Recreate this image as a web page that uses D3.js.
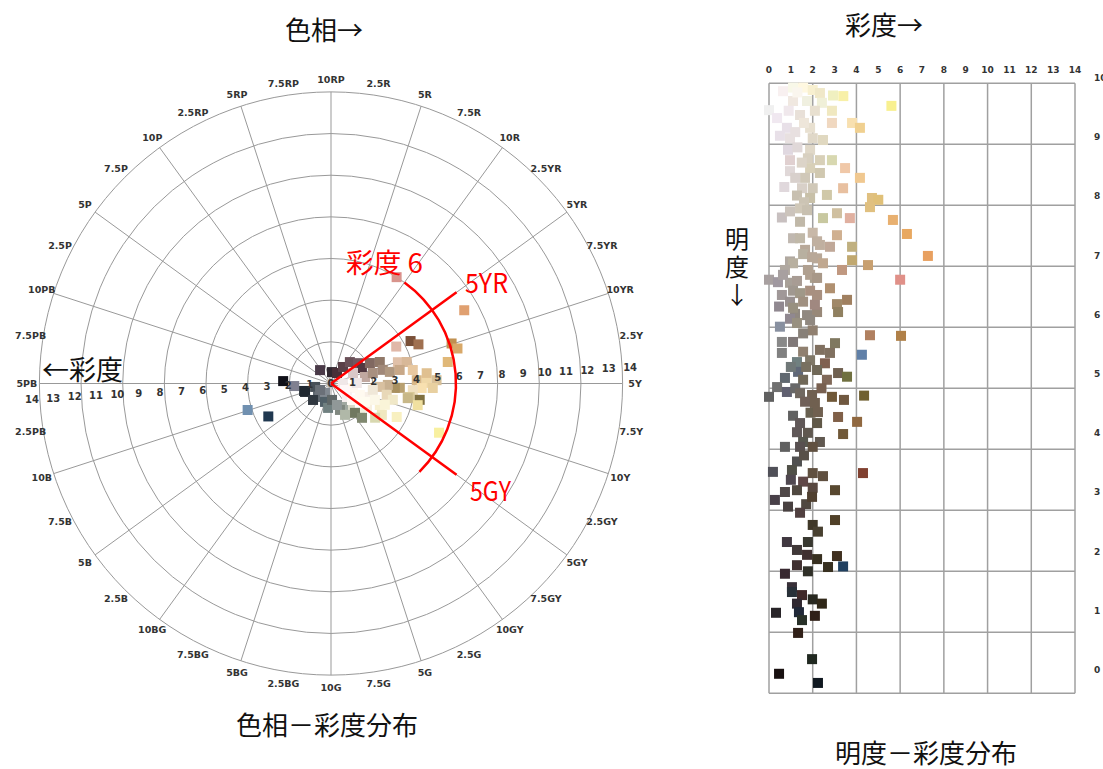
<!DOCTYPE html>
<html>
<head>
<meta charset="utf-8">
<script src="https://cdn.jsdelivr.net/npm/d3@7"></script>
<style>
  body { margin: 0; background: #fff; }
  svg { display: block; }
</style>
</head>
<body>
<svg id="chart" width="1103" height="769"></svg>
<script>
// Munsell hue names around the wheel, every 2.5 hue steps, clockwise from 10RP
const hueLabels = ["10RP","2.5R","5R","7.5R","10R","2.5YR","5YR","7.5YR","10YR","2.5Y",
  "5Y","7.5Y","10Y","2.5GY","5GY","7.5GY","10GY","2.5G","5G","7.5G",
  "10G","2.5BG","5BG","7.5BG","10BG","2.5B","5B","7.5B","10B","2.5PB",
  "5PB","7.5PB","10PB","2.5P","5P","7.5P","10P","2.5RP","5RP","7.5RP"];
const ringChroma = [2, 4, 6, 8, 10, 12, 14];
const chromaTicks = [0,1,2,3,4,5,6,7,8,9,10,11,12,13,14];
const valueTicks = [0,1,2,3,4,5,6,7,8,9,10];
const gridChroma = [0, 2, 4, 6, 8, 10, 12, 14];

// Hue–chroma samples: [hue number (0–100, R=0–10 … RP=90–100), chroma, sample colour]
const hueChromaSamples = [
  [8.8, 6.0, "#d8948c"], [17.0, 7.3, "#e0a070"], [17.2, 4.33, "#7a5038"], [18.3, 4.6, "#a07050"],
  [16.8, 3.6, "#e0b8a8"], [19.9, 6.1, "#c09050"], [20.7, 6.3, "#d8a868"], [22.1, 5.7, "#e0b878"],
  [31.8, 5.7, "#f8f0a0"], [70.1, 4.2, "#7090b0"], [67.3, 3.4, "#203850"], [75.8, 2.3, "#101018"],
  [73.9, 1.77, "#808090"], [70.7, 1.34, "#202830"],
  [89.1, 0.83, "#4a3a48"], [1.4, 0.55, "#302830"], [8.3, 0.58, "#483038"], [10, 0.98, "#5a4048"],
  [11.5, 1.37, "#6a5058"], [14.7, 1.62, "#705860"], [17.6, 1.66, "#503840"], [17.3, 2.11, "#806860"],
  [18.4, 2.56, "#907868"], [17.9, 1.17, "#d8c8c8"], [22, 1.66, "#c0a8a0"], [21.1, 2.07, "#a89080"],
  [20.9, 2.57, "#a08878"], [21.9, 2.88, "#b09880"], [20.1, 3.37, "#e0c0a8"], [20.6, 3.78, "#d8b898"],
  [21.9, 3.36, "#c8a888"], [22.4, 3.98, "#e8c8a0"], [24.4, 4.12, "#d8b888"], [23.3, 4.62, "#e0c090"],
  [24.9, 4.59, "#f0d8a8"], [24.5, 5.07, "#d8c098"], [25.7, 4.89, "#e8d0a0"], [25.8, 4.36, "#f8e0b0"],
  [26.3, 3.94, "#f0e0c0"], [27.7, 3.83, "#d8c898"], [27.9, 4.33, "#807040"], [28.9, 4.29, "#f0e0a0"],
  [28, 3.75, "#c8b888"], [26, 3.31, "#b8a070"], [26.1, 3.07, "#a89060"], [25.4, 2.73, "#c8b090"],
  [26.1, 2.35, "#d8c0a0"], [28.2, 2.73, "#e8d8b8"], [29.1, 3.07, "#f0e8c8"], [32.5, 3.54, "#f8f0c0"],
  [31.6, 2.56, "#f8f0d0"], [34.2, 2.06, "#f8f0e0"], [37.6, 1.98, "#f0f0e0"], [40.1, 1.56, "#d8d8c8"],
  [41.9, 1.18, "#a0a8a0"], [44.8, 1.34, "#808880"], [39.1, 1.82, "#707860"], [33.8, 2.87, "#f0e8c0"],
  [30.7, 1.84, "#f8f0e8"], [28.2, 1.07, "#fff8f0"], [36.2, 1.0, "#f8f0f0"], [27.4, 2.03, "#f0e8d8"],
  [24.7, 1.24, "#f0e8e8"], [25, 0.57, "#f0e8e8"],
  [70, 1.31, "#202830"], [71.6, 0.78, "#485058"], [62.2, 0.9, "#606870"], [59, 0.54, "#808890"],
  [63.2, 1.17, "#303840"], [55, 0.93, "#506068"], [51.9, 1.18, "#708080"], [49, 0.79, "#606868"],
  [45.7, 1.07, "#909898"], [66.5, 0.61, "#6a7078"], [43.3, 1.65, "#b0b8a8"], [38.3, 2.22, "#808870"],
  [35.5, 2.68, "#d8d8b0"],
  [31.9, 0.74, "#fff8f8"], [31, 1.49, "#fffaf0"], [30.7, 2.25, "#fcf8e8"], [31, 2.78, "#faf4d8"],
  [32.9, 1.85, "#fffcf0"], [35.6, 1.28, "#fffaf5"]
];

// Value–chroma samples: [chroma, value, sample colour]
const valueChromaSamples = [
  [0.0, 9.56, "#f0f0f0"], [0.64, 9.87, "#f8f0f0"], [1.1, 9.93, "#f8f8e8"], [1.56, 9.93, "#fff8e0"],
  [2.0, 9.89, "#f8f0d0"], [2.33, 9.84, "#f0e8c8"], [2.93, 9.8, "#f0f0c0"], [3.4, 9.79, "#f8f0a8"],
  [5.6, 9.63, "#f8f090"], [0.37, 9.43, "#f0e8f0"], [1.1, 9.71, "#f0e8e0"], [1.74, 9.71, "#f0f0e0"],
  [2.42, 9.68, "#f0f0d8"], [2.88, 9.55, "#f0e8c0"], [2.1, 9.55, "#e8e0d0"], [1.42, 9.48, "#e8e0d8"],
  [0.82, 9.27, "#e8e0e8"], [0.5, 9.14, "#e8e0e8"], [0.96, 9.1, "#e8e0e0"], [1.88, 9.27, "#e8e0d0"],
  [2.88, 9.35, "#f0d8c0"], [3.8, 9.35, "#f8e0b0"], [4.16, 9.27, "#f0d090"], [2.0, 9.1, "#e0d8c8"],
  [2.47, 9.07, "#e0d8c0"], [0.87, 8.91, "#e0d8e0"], [1.88, 8.91, "#e0d8c8"], [0.96, 8.74, "#e0d0d0"],
  [1.78, 8.77, "#d8d0c0"], [2.33, 8.74, "#d8d0b8"], [2.88, 8.74, "#d8d8b0"], [3.48, 8.61, "#f0c8a8"],
  [0.96, 8.56, "#e0d8d8"], [1.88, 8.61, "#d8d0b8"], [2.33, 8.53, "#d0c8b0"], [4.16, 8.45, "#f0c890"],
  [1.65, 8.45, "#d0c8b8"], [3.39, 8.28, "#e8c0a0"], [2.65, 8.17, "#d0c8a8"], [2.0, 8.28, "#d0c8b8"],
  [1.51, 8.28, "#d8d0c8"], [1.28, 8.16, "#c8c0b0"], [1.88, 8.12, "#c8c0a8"], [4.71, 8.12, "#e0c080"],
  [5.0, 8.09, "#e0c078"], [4.62, 7.97, "#e0c080"],
  [1.3, 9.85, "#faf6ee"], [0.9, 9.55, "#f0e8ec"], [1.6, 9.35, "#eee6da"], [1.2, 9.2, "#e8e0e0"],
  [1.3, 8.95, "#e0d8d8"], [1.5, 8.7, "#dcd4c8"], [1.2, 8.45, "#d8d0cc"], [0.7, 8.3, "#e0d8dc"],
  [1.6, 8.05, "#ccc4b4"],
  [0.59, 7.8, "#c8c0c0"], [1.42, 7.73, "#c0b8a8"], [2.47, 7.79, "#c8c8a0"], [3.11, 7.87, "#d0c0a0"],
  [3.7, 7.79, "#e0b0a0"], [5.67, 7.76, "#e8b070"], [6.31, 7.53, "#e8a860"], [7.27, 7.17, "#e8a060"],
  [1.42, 7.95, "#d0c8b8"], [1.74, 7.92, "#c8c0b0"], [0.96, 7.9, "#ccc4bc"],
  [1.1, 7.46, "#c0b8b0"], [2.0, 7.55, "#c8b8a8"], [3.11, 7.51, "#d0b090"], [3.8, 7.32, "#c0b080"],
  [2.79, 7.32, "#c0a898"], [1.65, 7.27, "#b8a898"], [2.33, 7.35, "#c0b0a0"], [3.8, 7.1, "#c0a870"],
  [1.42, 7.46, "#c0b8a8"], [2.2, 7.41, "#c0b0a0"], [1.56, 7.2, "#b8b0a0"], [2.2, 7.13, "#b8a898"],
  [0.96, 7.08, "#b0a8a0"],
  [4.53, 7.02, "#c8a070"], [2.47, 7.05, "#c0a890"], [1.1, 7.05, "#b8b0a0"], [1.97, 7.15, "#b8a898"],
  [3.34, 6.94, "#c09880"], [0.73, 6.94, "#b0a8a0"], [1.78, 6.94, "#b0a090"], [0.0, 6.78, "#a8a0a0"],
  [0.41, 6.74, "#a098a0"], [6.0, 6.78, "#e09088"], [0.96, 6.73, "#a8a098"], [2.1, 6.81, "#a8a090"],
  [0.64, 6.86, "#a8a0a0"], [1.88, 6.86, "#b0a090"], [2.2, 6.81, "#a89888"], [1.28, 6.76, "#a89c94"],
  [1.1, 6.6, "#a09890"], [1.88, 6.6, "#a89080"],
  [2.79, 6.64, "#b09070"], [0.59, 6.53, "#a09898"], [1.42, 6.56, "#a09888"], [2.2, 6.53, "#a89080"],
  [3.57, 6.45, "#a08060"], [3.11, 6.38, "#a08868"], [3.16, 6.25, "#908060"], [0.46, 6.34, "#908890"],
  [0.96, 6.42, "#989090"], [1.56, 6.42, "#a09080"], [1.19, 6.22, "#908880"], [2.2, 6.25, "#988878"],
  [0.96, 6.14, "#908890"],
  [1.1, 6.32, "#989080"], [2.1, 6.37, "#a08880"], [1.74, 6.2, "#908880"], [0.5, 6.01, "#8890a0"],
  [1.28, 6.07, "#989080"], [1.88, 6.12, "#908880"], [4.62, 5.87, "#b08060"], [6.04, 5.86, "#b08048"],
  [2.0, 5.95, "#908070"], [1.56, 5.9, "#888078"],
  [0.59, 5.76, "#888888"], [1.1, 5.76, "#807878"], [3.02, 5.74, "#807860"], [4.25, 5.55, "#6080a8"],
  [0.59, 5.58, "#808080"], [1.56, 5.6, "#908070"], [2.33, 5.63, "#807060"], [2.79, 5.58, "#807060"],
  [1.28, 5.43, "#708080"], [1.88, 5.46, "#807868"], [2.56, 5.41, "#806050"], [1.33, 5.27, "#606878"],
  [1.0, 5.35, "#707878"], [1.7, 5.35, "#787060"],
  [2.2, 5.3, "#706858"], [3.16, 5.25, "#706050"], [3.57, 5.19, "#707040"], [0.73, 5.17, "#606870"],
  [1.56, 5.14, "#706858"], [2.65, 5.14, "#806858"], [0.37, 5.02, "#707070"], [0.82, 4.94, "#606070"],
  [1.2, 5.0, "#686868"], [2.4, 5.0, "#786050"],
  [0.0, 4.86, "#606060"], [1.42, 4.92, "#706860"], [1.97, 4.89, "#706050"], [2.88, 4.86, "#705838"],
  [3.43, 4.81, "#705840"], [4.35, 4.88, "#706030"], [1.65, 4.78, "#706058"], [2.1, 4.76, "#706050"],
  [1.1, 4.55, "#606060"], [1.9, 4.6, "#686050"],
  [2.24, 4.61, "#706050"], [3.16, 4.53, "#806048"], [4.03, 4.45, "#906840"], [1.42, 4.43, "#605858"],
  [2.2, 4.43, "#605848"], [3.39, 4.25, "#705838"], [1.28, 4.28, "#605858"], [1.78, 4.27, "#605850"],
  [1.56, 4.12, "#585850"], [0.73, 4.04, "#606060"], [2.33, 4.12, "#605850"], [1.42, 4.04, "#585050"],
  [2.0, 4.04, "#605040"], [1.28, 3.8, "#505050"], [0.18, 3.63, "#505058"], [1.05, 3.66, "#505048"],
  [1.6, 3.9, "#585048"], [1.0, 3.5, "#504850"], [1.7, 3.1, "#504840"],
  [4.3, 3.61, "#804030"], [2.0, 3.61, "#605040"], [2.47, 3.56, "#605040"], [1.56, 3.47, "#604848"],
  [2.0, 3.37, "#584840"], [3.02, 3.33, "#584830"], [0.73, 3.3, "#504848"], [1.28, 3.33, "#504840"],
  [1.97, 3.22, "#504030"], [0.27, 3.17, "#484048"], [0.87, 3.06, "#484040"], [1.42, 2.96, "#504040"],
  [3.02, 2.84, "#504028"], [2.0, 2.76, "#403828"], [2.24, 2.65, "#484030"], [0.82, 2.48, "#403840"],
  [1.78, 2.48, "#383830"], [1.28, 2.35, "#403838"], [1.74, 2.27, "#403030"], [2.2, 2.2, "#383020"],
  [3.11, 2.25, "#403020"], [2.7, 2.07, "#383020"], [3.39, 2.08, "#204060"], [1.28, 2.1, "#403030"],
  [1.78, 2.0, "#303028"], [0.73, 1.96, "#382830"], [1.05, 1.74, "#383038"], [1.51, 1.61, "#402828"],
  [1.05, 1.66, "#283038"], [2.0, 1.54, "#282820"], [2.42, 1.47, "#302818"], [1.28, 1.47, "#302830"],
  [0.32, 1.32, "#282428"], [1.37, 1.33, "#202838"], [1.51, 1.2, "#283028"], [2.1, 1.27, "#302018"],
  [1.33, 0.99, "#302018"], [1.97, 0.56, "#202820"], [0.46, 0.32, "#181010"], [2.24, 0.17, "#101820"]
];

// Highlighted range on the hue wheel: hues 5YR–5GY, chroma 6 boundary
const highlightHues = [15, 35];      // 5YR, 5GY
const highlightRayChroma = 7.45;
const highlightArc = { chroma: 6, from: 10, to: 37.5 };

const svg = d3.select("#chart");
const labelFont = "'DejaVu Sans', sans-serif";
const jpFont = "'Noto Sans CJK JP', 'Noto Sans', sans-serif";

// ---------------- Hue–chroma polar chart ----------------
const cx = 331, cy = 383.5;
const r = d3.scaleLinear().domain([0, 14]).range([0, 291.6]);
const rTick = d3.scaleLinear().domain([0, 14]).range([0, 299.5]);
const ang = d3.scaleLinear().domain([0, 100]).range([0, 2 * Math.PI]); // clockwise from top
const polar = (h, c) => [cx + r(c) * Math.sin(ang(h)), cy - r(c) * Math.cos(ang(h))];

const gp = svg.append("g");
const gridColor = "#999";

gp.selectAll("circle.ring").data(ringChroma).join("circle")
  .attr("cx", cx).attr("cy", cy).attr("r", d => r(d))
  .attr("fill", "none").attr("stroke", gridColor).attr("stroke-width", 1);

const hueSteps = hueLabels.map((name, i) => ({ name, h: i * 2.5, i }));
gp.selectAll("line.spoke").data(hueSteps.filter(d => d.i % 2 === 0)).join("line")
  .attr("x1", cx).attr("y1", cy)
  .attr("x2", d => polar(d.h, 14)[0]).attr("y2", d => polar(d.h, 14)[1])
  .attr("stroke", gridColor).attr("stroke-width", 1);

gp.selectAll("text.hue").data(hueSteps).join("text")
  .attr("x", d => cx + (r(14) + 12.5) * Math.sin(ang(d.h)))
  .attr("y", d => cy - (r(14) + 12.5) * Math.cos(ang(d.h)))
  .attr("text-anchor", "middle").attr("dominant-baseline", "central")
  .attr("font-family", labelFont).attr("font-weight", "bold").attr("font-size", 9.5)
  .attr("fill", "#333").text(d => d.name);

// samples
const sq = 10;
gp.selectAll("rect.hc").data(hueChromaSamples).join("rect")
  .attr("x", d => polar(d[0], d[1])[0] - sq / 2)
  .attr("y", d => polar(d[0], d[1])[1] - sq / 2)
  .attr("width", sq).attr("height", sq)
  .attr("fill", d => d[2]);

// chroma tick labels along the horizontal axis (slightly tilted)
const tilt = -3 * Math.PI / 180;
const tickRows = chromaTicks.map(v => ({ v, side: 1 }))
  .concat(chromaTicks.filter(v => v > 0).map(v => ({ v, side: -1 })));
gp.selectAll("text.ct").data(tickRows).join("text")
  .attr("x", d => cx + d.side * rTick(d.v) * Math.cos(tilt))
  .attr("y", d => cy + d.side * rTick(d.v) * Math.sin(tilt))
  .attr("text-anchor", "middle").attr("dominant-baseline", "central")
  .attr("font-family", labelFont).attr("font-weight", "bold").attr("font-size", 10)
  .attr("fill", "#333").text(d => d.v);

// red highlight
const red = "#ff0000";
gp.selectAll("line.hl").data(highlightHues).join("line")
  .attr("x1", cx).attr("y1", cy)
  .attr("x2", h => polar(h, highlightRayChroma)[0])
  .attr("y2", h => polar(h, highlightRayChroma)[1])
  .attr("stroke", red).attr("stroke-width", 2.5);
const arcPath = d3.path();
arcPath.arc(cx, cy, r(highlightArc.chroma),
  ang(highlightArc.from) - Math.PI / 2, ang(highlightArc.to) - Math.PI / 2);
gp.append("path").attr("d", arcPath.toString())
  .attr("fill", "none").attr("stroke", red).attr("stroke-width", 2.5);

const redText = (t, x, y, len) => gp.append("text")
  .attr("x", x).attr("y", y).attr("font-family", jpFont).attr("font-size", 27)
  .attr("fill", red).attr("textLength", len).attr("lengthAdjust", "spacingAndGlyphs").text(t);
redText("彩度 6", 346, 273, 77);
redText("5YR", 465, 293, 43);
redText("5GY", 470, 501, 41);

// titles
const title = (t, x, y, size, anchor) => svg.append("text")
  .attr("x", x).attr("y", y).attr("font-family", jpFont).attr("font-size", size)
  .attr("text-anchor", anchor || "start").attr("fill", "#111").text(t);
title("色相→", 285, 40, 26);
title("←彩度", 42, 380, 27);
title("色相－彩度分布", 236, 735, 26);

// ---------------- Value–chroma chart ----------------
const x = d3.scaleLinear().domain([0, 14]).range([769, 1075]);
const y = d3.scaleLinear().domain([0, 10]).range([693.3, 83.3]);
const yTick = d3.scaleLinear().domain([0, 10]).range([670, 78]);
const gm = svg.append("g");
const mGrid = "#a0a0a0";

gm.selectAll("line.v").data(gridChroma).join("line")
  .attr("x1", d => x(d)).attr("x2", d => x(d))
  .attr("y1", y(10)).attr("y2", y(0))
  .attr("stroke", mGrid).attr("stroke-width", 1.5);
gm.selectAll("line.h").data(valueTicks).join("line")
  .attr("x1", x(0)).attr("x2", x(14))
  .attr("y1", d => y(d)).attr("y2", d => y(d))
  .attr("stroke", mGrid).attr("stroke-width", 1.5);

gm.selectAll("text.xt").data(chromaTicks).join("text")
  .attr("x", d => x(d)).attr("y", 70)
  .attr("text-anchor", "middle").attr("dominant-baseline", "central")
  .attr("font-family", labelFont).attr("font-weight", "bold").attr("font-size", 9)
  .attr("fill", "#333").text(d => d);
gm.selectAll("text.yt").data(valueTicks).join("text")
  .attr("x", 1094).attr("y", d => yTick(d))
  .attr("dominant-baseline", "central")
  .attr("font-family", labelFont).attr("font-weight", "bold").attr("font-size", 9)
  .attr("fill", "#333").text(d => d);

const sq2 = 10;
gm.selectAll("rect.vc").data(valueChromaSamples).join("rect")
  .attr("x", d => x(d[0]) - sq2 / 2)
  .attr("y", d => y(d[1]) - sq2 / 2)
  .attr("width", sq2).attr("height", sq2)
  .attr("fill", d => d[2]);

title("彩度→", 845, 35, 26);
// vertical axis title written top-to-bottom, glyphs kept upright
svg.append("text")
  .attr("x", 737).attr("y", 227)
  .attr("writing-mode", "vertical-rl")
  .style("text-orientation", "upright")
  .attr("letter-spacing", 4)
  .attr("font-family", jpFont).attr("font-size", 24).attr("fill", "#111")
  .text("明度↓");
title("明度－彩度分布", 835, 763, 26);
</script>
</body>
</html>
